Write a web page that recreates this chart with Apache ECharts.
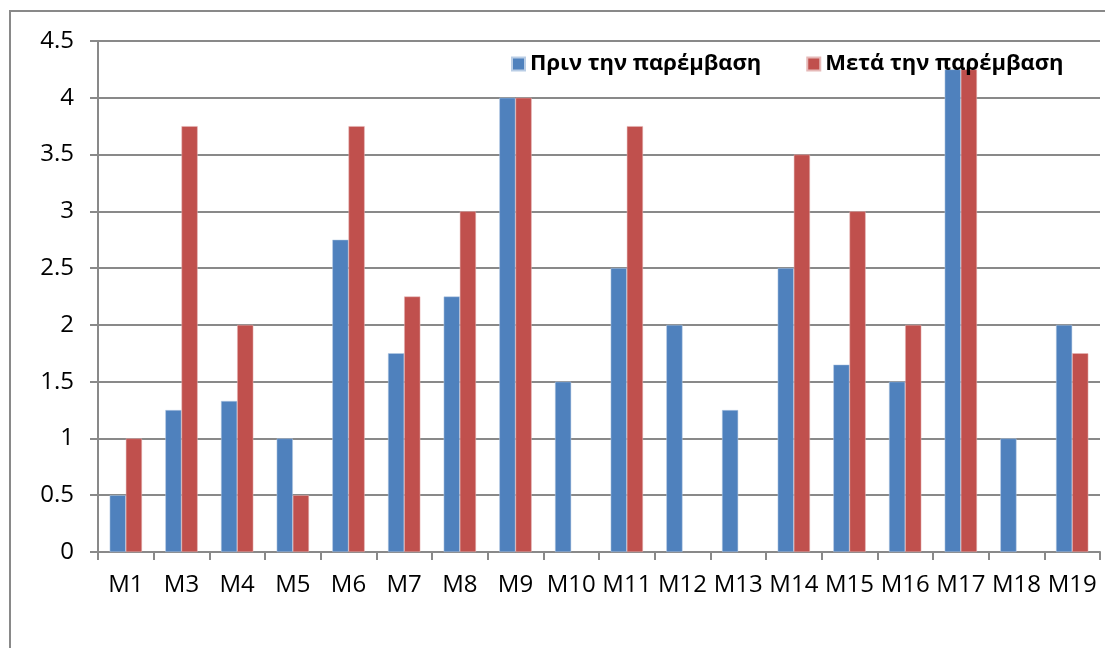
<!DOCTYPE html>
<html>
<head>
<meta charset="utf-8">
<script src="https://cdn.jsdelivr.net/npm/echarts@6/dist/echarts.min.js"></script>
<style>html,body{margin:0;padding:0;background:#fff}#c{width:1105px;height:648px}</style>
</head>
<body>
<div id="c"></div>
<script>
var categories = ['M1','M3','M4','M5','M6','M7','M8','M9','M10','M11','M12','M13','M14','M15','M16','M17','M18','M19'];
var beforeValues = [0.5,1.25,1.33,1,2.75,1.75,2.25,4,1.5,2.5,2,1.25,2.5,1.65,1.5,4.25,1,2];
var afterValues = [1,3.75,2,0.5,3.75,2.25,3,4,null,3.75,null,null,3.5,3,2,4.25,null,1.75];
var seriesNames = ['Πριν την παρέμβαση','Μετά την παρέμβαση'];
var yTicks = [0,0.5,1,1.5,2,2.5,3,3.5,4,4.5];

var font = '"Open Sans", "Noto Sans", sans-serif';
var chart = echarts.init(document.getElementById('c'));
chart.setOption({
  animation: false,
  backgroundColor: '#fff',
  graphic: [{
    type: 'rect', shape: {x: 10, y: 11, width: 1200, height: 1000},
    style: {fill: 'none', stroke: '#898989', lineWidth: 2}, silent: true
  }],
  legend: {
    top: 48, left: 506,
    itemWidth: 13, itemHeight: 13, itemGap: 45,
    icon: 'rect',
    textStyle: {fontFamily: font, fontWeight: 'bold', fontSize: 22, color: '#000'},
    data: seriesNames
  },
  grid: {left: 98, right: 5, top: 41, bottom: 96, containLabel: false},
  xAxis: {
    type: 'category', data: categories,
    axisLine: {lineStyle: {color: '#898989', width: 2}},
    axisTick: {show: true, length: 8, lineStyle: {color: '#898989', width: 2}},
    axisLabel: {fontFamily: font, fontSize: 24, color: '#000', margin: 21, interval: 0}
  },
  yAxis: {
    type: 'value', min: 0, max: 4.5, interval: 0.5,
    axisLine: {show: true, lineStyle: {color: '#898989', width: 2}},
    axisTick: {show: true, length: 8, lineStyle: {color: '#898989', width: 2}},
    splitLine: {lineStyle: {color: '#898989', width: 2}},
    axisLabel: {fontFamily: font, fontSize: 24, color: '#000', margin: 24,
      formatter: function (v) { return yTicks.indexOf(v) >= 0 ? String(v) : ''; }}
  },
  series: [
    {name: seriesNames[0], type: 'bar', data: beforeValues, barGap: '0%', barCategoryGap: '42%',
     itemStyle: {color: '#4F81BD', borderColor: '#B9CDE5', borderWidth: 0.5}},
    {name: seriesNames[1], type: 'bar', data: afterValues, barGap: '0%', barCategoryGap: '42%',
     itemStyle: {color: '#C0504D', borderColor: '#E6B9B8', borderWidth: 0.5}}
  ]
});
</script>
</body>
</html>
